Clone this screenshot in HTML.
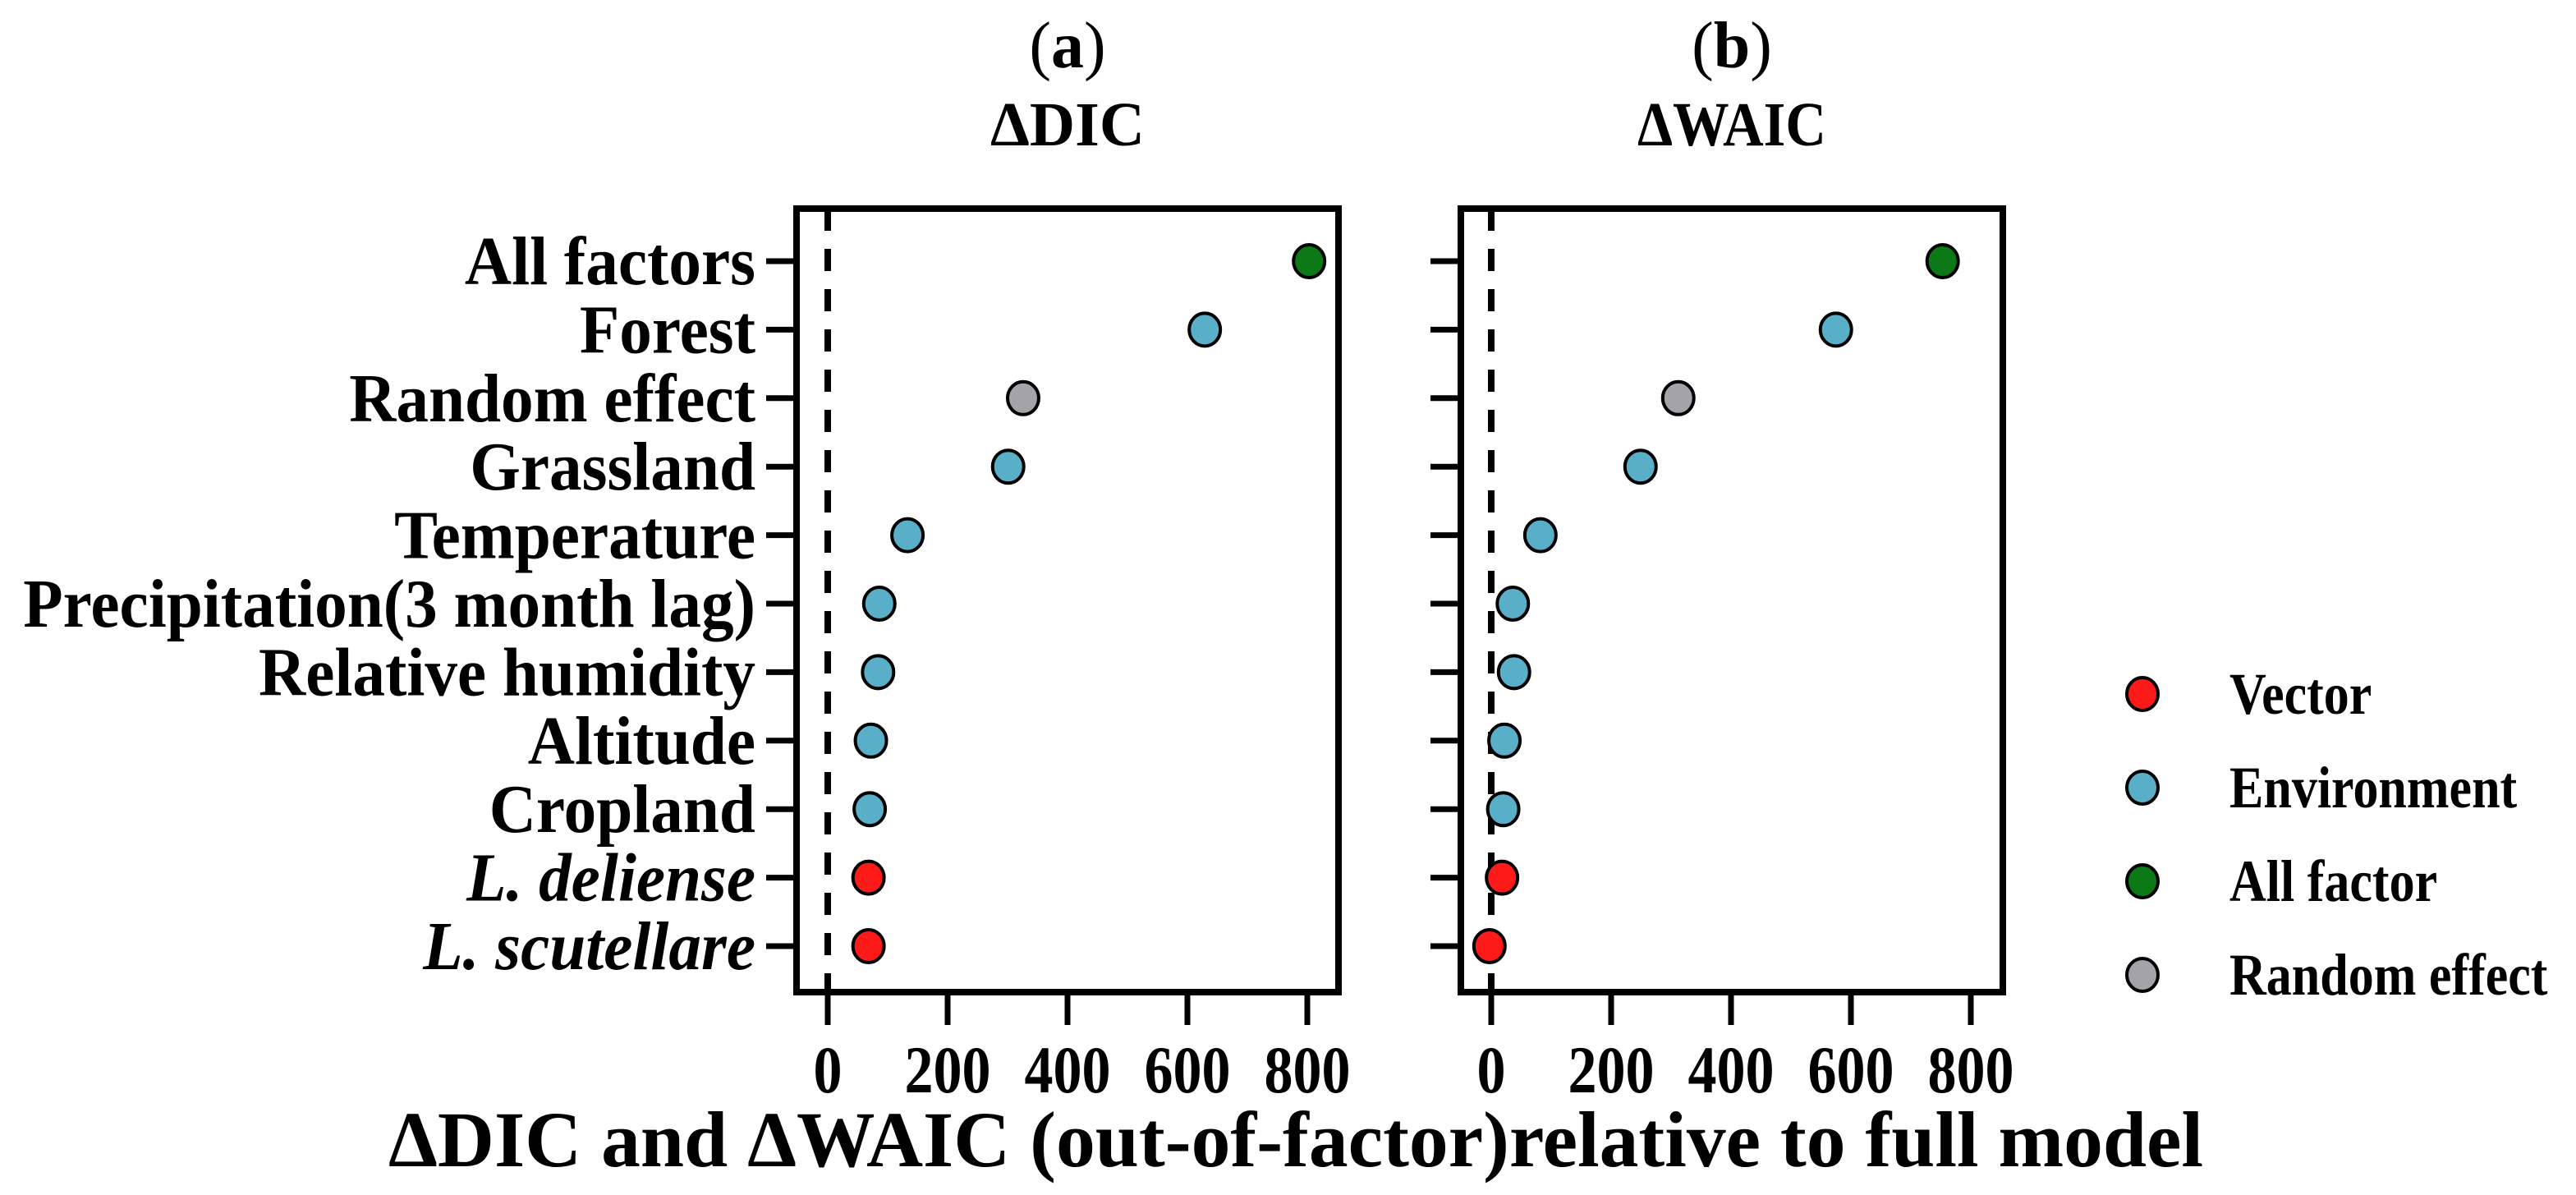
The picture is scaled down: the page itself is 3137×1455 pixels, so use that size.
<!DOCTYPE html>
<html><head><meta charset="utf-8"><style>
html,body{margin:0;padding:0;background:#fff;}
svg{display:block;font-family:"Liberation Serif",serif;font-weight:bold;}
</style></head><body>
<svg id="chart" width="3137" height="1455" viewBox="0 0 3137 1455" xmlns="http://www.w3.org/2000/svg">
<text id="ta" x="1300" y="82" font-size="80" text-anchor="middle" font-weight="normal">(<tspan font-weight="bold">a</tspan>)</text>
<text id="tb" x="2109" y="82" font-size="80" text-anchor="middle" font-weight="normal">(<tspan font-weight="bold">b</tspan>)</text>
<text x="1300" y="177" font-size="76" text-anchor="middle" textLength="188" lengthAdjust="spacingAndGlyphs">ΔDIC</text>
<text x="2109" y="177" font-size="76" text-anchor="middle" textLength="230" lengthAdjust="spacingAndGlyphs">ΔWAIC</text>
<text x="1578" y="1420" font-size="96" text-anchor="middle" textLength="2210" lengthAdjust="spacingAndGlyphs">ΔDIC and ΔWAIC (out-of-factor)relative to full model</text>
<g id="plots"></g>
<g id="legend"></g>
</svg>
<script>
const categories = ["All factors","Forest","Random effect","Grassland","Temperature","Precipitation(3 month lag)","Relative humidity","Altitude","Cropland","L. deliense","L. scutellare"];
const groups = ["all","env","rand","env","env","env","env","env","env","vec","vec"];
const dicValues = [803,629,326,301,133,86,84,72,70,68,68];
const waicValues = [753,575,312,249,82,36,38,22,20,18,-3];
const xTicks = [0,200,400,600,800];
const legendLabels = ["Vector","Environment","All factor","Random effect"];
const legendGroups = ["vec","env","all","rand"];

const colors = {vec:"#ff1a1a", env:"#5aafc8", all:"#0b7a16", rand:"#a3a3a8"};
const NS = "http://www.w3.org/2000/svg";
function mk(tag, attrs, parent){const e=document.createElementNS(NS,tag);for(const k in attrs)e.setAttribute(k,attrs[k]);parent.appendChild(e);return e;}
function condense(el, baseSize, newSize, widthFactor){
  el.setAttribute('font-size', baseSize);
  const w = el.getComputedTextLength();
  el.setAttribute('font-size', newSize);
  el.setAttribute('textLength', (w*widthFactor).toFixed(1));
  el.setAttribute('lengthAdjust', 'spacingAndGlyphs');
}
const plots = document.getElementById('plots');
const top0 = 254, bottom0 = 1208;
function yPos(i){return 318 + i*83.4;}

function panel(name, left, right, zeroX, values, showLabels){
  const g = mk('g',{},plots);
  
  
  const xs = v => zeroX + v*0.73;
  const zl = mk('line',{x1:zeroX,x2:zeroX,y1:top0,y2:bottom0,stroke:'#000','stroke-width':8,'stroke-dasharray':'27 22'},g);
  
  
  const fr = mk('rect',{x:left,y:top0,width:right-left,height:bottom0-top0,fill:'none',stroke:'#000','stroke-width':8},g);
  
  
  categories.forEach((c,i)=>{
    const y = yPos(i);
    const t = mk('line',{x1:left-37,x2:left,y1:y,y2:y,stroke:'#000','stroke-width':7},g);
    
    
    if(showLabels){
      const tx = mk('text',{x:left-50,y:y+28,'font-size':72,'text-anchor':'end'},g);
      if(i>=9) tx.setAttribute('font-style','italic');
      tx.textContent = c;
      
      
      condense(tx, 72, 84, 1.1);
    }
  });
  xTicks.forEach(v=>{
    const x = xs(v);
    const t = mk('line',{x1:x,x2:x,y1:bottom0,y2:1248,stroke:'#000','stroke-width':7},g);
    
    
    const tx = mk('text',{x:x,y:1330,'font-size':70,'text-anchor':'middle'},g);
    tx.textContent = v;
    
    
    condense(tx, 70, 82, 1.0);
  });
  values.forEach((v,i)=>{
    const p = mk('ellipse',{cx:xs(v),cy:yPos(i),rx:19,ry:20,fill:colors[groups[i]],stroke:'#000','stroke-width':4},g);
    
    
  });
}
panel('panel-a-dic', 970, 1630, 1008, dicValues, true);
panel('panel-b-waic', 1779, 2439, 1816, waicValues, false);

const lg = document.getElementById('legend');
legendLabels.forEach((l,i)=>{
  const y = 845 + i*114;
  const c = mk('ellipse',{cx:2609,cy:y,rx:19,ry:20,fill:colors[legendGroups[i]],stroke:'#000','stroke-width':4},lg);
  
  
  const t = mk('text',{x:2715,y:y+24,'font-size':62},lg);
  t.textContent = l;
  
  
  condense(t, 62, 72, 1.0);
});
</script>
</body></html>
